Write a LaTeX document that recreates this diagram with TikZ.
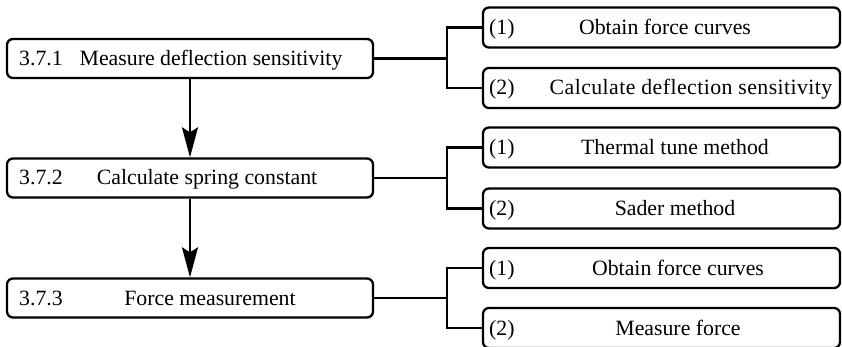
\documentclass[tikz,border=0pt]{standalone}
\usepackage{fontspec}
\setmainfont{Liberation Serif}
\usetikzlibrary{arrows.meta}

\begin{document}
\begin{tikzpicture}[x=1pt, y=-1pt, line width=2.3pt,
    >={Stealth[length=30pt, width=16pt, inset=5pt]},
    stagebox/.style={draw, rounded corners=6pt, minimum width=366pt, minimum height=39pt, inner sep=0pt},
    taskbox/.style={draw, rounded corners=6pt, minimum width=357pt, minimum height=40pt, inner sep=0pt},
    txt/.style={font=\fontsize{21.8}{26}\selectfont, inner sep=0pt, text height=16pt, text depth=2pt}]
    \useasboundingbox (0,0) rectangle (842,347);

    % Stages (left column)
    \node[stagebox] (s1) at (190,58.5) {};
    \node[stagebox] (s2) at (190,178) {};
    \node[stagebox] (s3) at (190,298) {};
    \node[txt, anchor=west] at (18,58.5) {3.7.1};
    \node[txt] at (211,58.5) {Measure deflection sensitivity};
    \node[txt, anchor=west] at (18,178) {3.7.2};
    \node[txt] at (207,178) {Calculate spring constant};
    \node[txt, anchor=west] at (18,298) {3.7.3};
    \node[txt] at (210,298) {Force measurement};

    % Steps (right column)
    \node[taskbox] (t1a) at (661.5,27.5) {};
    \node[taskbox] (t1b) at (661.5,88) {};
    \node[taskbox] (t2a) at (661.5,147.5) {};
    \node[taskbox] (t2b) at (661.5,208.5) {};
    \node[taskbox] (t3a) at (661.5,268) {};
    \node[taskbox] (t3b) at (661.5,328) {};
    \foreach \n/\y in {1/27.5, 2/88, 1/147.5, 2/208.5, 1/268, 2/328}
        \node[txt, anchor=west] at (488,\y) {(\n)};
    \node[txt] at (665,27.5) {Obtain force curves};
    \node[txt] at (691,88) {\addfontfeatures{LetterSpace=2}Calculate deflection sensitivity};
    \node[txt] at (675,147.5) {Thermal tune method};
    \node[txt] at (675,208.5) {Sader method};
    \node[txt] at (678,268) {Obtain force curves};
    \node[txt] at (678,328) {Measure force};

    % Flow between stages
    \draw[->] (s1.south) -- (s2.north);
    \draw[->] (s2.south) -- (s3.north);

    % Branches
    \coordinate (b1) at (447,58.5);
    \coordinate (b2) at (447,178);
    \coordinate (b3) at (447,298);
    \draw (s1.east) -- (b1);
    \draw (t1a.west) -| (b1) |- (t1b.west);
    \draw (s2.east) -- (b2);
    \draw (t2a.west) -| (b2) |- (t2b.west);
    \draw (s3.east) -- (b3);
    \draw (t3a.west) -| (b3) |- (t3b.west);
\end{tikzpicture}
\end{document}
